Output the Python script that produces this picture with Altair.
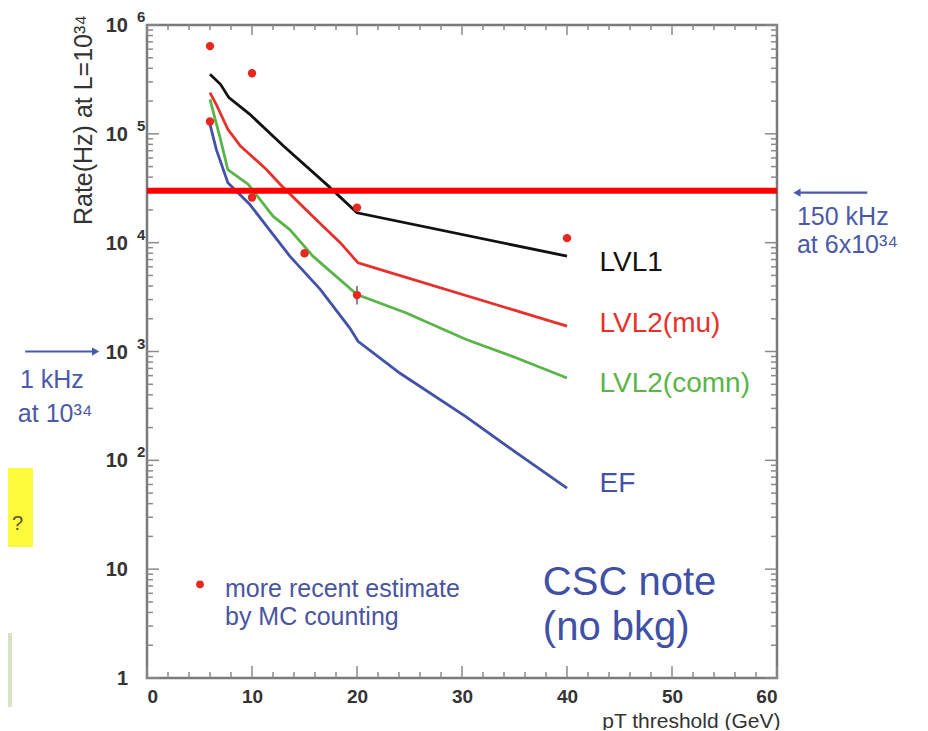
import altair as alt
import pandas as pd

FONT = "Liberation Sans"

# ---- curves (pT threshold in GeV, rate in Hz) ----
lvl1_x = [6, 7, 7.8, 9.8, 13.0, 17.1, 20.0, 40]
lvl1_y = [352000, 285000, 215000, 151000, 77300, 34300, 18800, 7520]
mu_x = [6, 6.6, 7.7, 8.9, 9.8, 11.4, 12.7, 15.8, 18.4, 20.1, 21.6, 40]
mu_y = [239000, 186000, 110000, 77300, 64600, 46800, 34300, 17400, 10000, 6530, 5890, 1710]
comn_x = [6, 7, 7.7, 9.65, 12.0, 13.6, 15.8, 20.0, 24.7, 30.4, 35.2, 40]
comn_y = [207000, 89100, 46800, 34300, 17500, 13200, 7520, 3330, 2260, 1290, 871, 571]
ef_x = [6, 6.6, 7.7, 9.8, 13.6, 16.5, 19.3, 20.1, 24.1, 30.4, 35.2, 40]
ef_y = [122000, 71900, 35500, 22400, 7520, 3720, 1650, 1240, 631, 251, 117, 55.6]

series_names = ["LVL1", "LVL2(mu)", "LVL2(comn)", "EF"]
series_colors = ["#111111", "#e8302a", "#5ab548", "#4352a8"]

# ---- MC counting estimates ----
dot_x = [6, 10, 6, 10, 15, 20, 20, 40]
dot_y = [640000, 360000, 130000, 26000, 8000, 21000, 3300, 11000]
err_x = [20]
err_lo = [2700]
err_hi = [4000]

# ---- 150 kHz at 6x10^34 limit ----
limit_rate = [30000]
limit_x0 = [0]
limit_x1 = [60]

# ---- axis ticks ----
x_major = [0, 10, 20, 30, 40, 50, 60]
x_minor = [2, 4, 6, 8, 12, 14, 16, 18, 22, 24, 26, 28, 32, 34, 36, 38,
           42, 44, 46, 48, 52, 54, 56, 58]
y_major = [1, 10, 100, 1000, 10000, 100000, 1000000]
y_base = ["1", "10", "10", "10", "10", "10", "10"]
y_exp = ["", "", "2", "3", "4", "5", "6"]
y_minor = [m * d for d in [1, 10, 100, 1000, 10000, 100000] for m in range(2, 10)]

# ---- texts ----
lab_x = [43.1, 43.1, 43.1, 43.1]
lab_y = [5500, 1510, 425, 51]

xs = alt.Scale(domain=[0, 60], nice=False, zero=False)
ys = alt.Scale(type="log", domain=[1, 1000000], nice=False)
x_axis = alt.Axis(
    values=x_major, format="d", domain=False, ticks=False, grid=False,
    labelFont=FONT, labelFontSize=19, labelFontWeight="bold", labelColor="#333333",
    labelPadding=9, labelBaseline="top",
    title="pT threshold (GeV)", titleFont=FONT, titleFontSize=21, titleFontWeight="normal",
    titleColor="#333333", titleAnchor="end", titleAlign="right", titleX=633, titleY=49,
    titleBaseline="alphabetic")

rows = []
for name, xv, yv in zip(series_names, [lvl1_x, mu_x, comn_x, ef_x], [lvl1_y, mu_y, comn_y, ef_y]):
    for i, (a, b) in enumerate(zip(xv, yv)):
        rows.append({"series": name, "x": a, "y": b, "o": i})
df_lines = pd.DataFrame(rows)
cscale = alt.Scale(domain=series_names, range=series_colors)

def X(f="x"):
    return alt.X(f"{f}:Q", scale=xs, axis=x_axis)

def Y(f="y"):
    return alt.Y(f"{f}:Q", scale=ys, axis=None)

layers = []

# background boxes (slide fragments on the left)
boxes = pd.DataFrame({"x0": [-14.5, -14.5], "x1": [-10.86, -12.86],
                      "y0": [16, 0.54], "y1": [85, 2.59],
                      "c": ["#fdfc3a", "#d6e4c2"]})
layers.append(alt.Chart(boxes).mark_rect().encode(
    x=X("x0"), x2="x1:Q", y=Y("y0"), y2="y1:Q",
    color=alt.Color("c:N", scale=None)))
layers.append(alt.Chart(pd.DataFrame({"x": [-11.8], "y": [22.9], "t": ["t ?"]}))
              .mark_text(align="right", baseline="alphabetic", font=FONT, fontSize=20, color="#555533")
              .encode(x=X(), y=Y(), text="t:N"))

# inner ticks on all four sides
def vticks(vals, x0, x1):
    return alt.Chart(pd.DataFrame({"v": vals})).mark_rule(color="#8a8a8a", strokeWidth=1.5).encode(
        y=alt.Y("v:Q", scale=ys, axis=None), x=alt.value(x0), x2=alt.value(x1))

def hticks(vals, y0, y1):
    return alt.Chart(pd.DataFrame({"v": vals})).mark_rule(color="#8a8a8a", strokeWidth=1.5).encode(
        x=alt.X("v:Q", scale=xs, axis=x_axis), y=alt.value(y0), y2=alt.value(y1))

layers += [vticks(y_major, 0, 12), vticks(y_minor, 0, 6),
           vticks(y_major, 630, 618), vticks(y_minor, 630, 624),
           hticks(x_major, 653, 641), hticks(x_minor, 653, 647),
           hticks(x_major, 0, 10), hticks(x_minor, 0, 5)]

# y tick labels: 10 with exponent
ylab = pd.DataFrame({"y": y_major, "b": y_base, "e": y_exp})
layers.append(alt.Chart(ylab).mark_text(align="right", baseline="middle", font=FONT, fontSize=20,
                                         fontWeight="bold", color="#333333", dy=1)
              .encode(y=Y(), text="b:N", x=alt.value(-19)))
layers.append(alt.Chart(ylab).mark_text(align="left", baseline="middle", font=FONT, fontSize=15,
                                         fontWeight="bold", color="#333333", dy=-8)
              .encode(y=Y(), text="e:N", x=alt.value(-10)))

# y title
layers.append(alt.Chart(pd.DataFrame({"x": [-6.0], "y": [134000], "t": ["Rate(Hz) at L=10³⁴"]}))
              .mark_text(angle=270, align="center", baseline="middle", font=FONT, fontSize=25, color="#333333")
              .encode(x=X(), y=Y(), text="t:N"))

# curves
layers.append(alt.Chart(df_lines).mark_line(strokeWidth=2.8).encode(
    x=X(), y=Y(), color=alt.Color("series:N", scale=cscale, legend=None),
    detail="series:N", order="o:Q"))

# limit line
layers.append(alt.Chart(pd.DataFrame({"x0": limit_x0, "x1": limit_x1, "y": limit_rate}))
              .mark_rule(color="#ff0000", strokeWidth=6).encode(x=X("x0"), x2="x1:Q", y=Y()))

# error bar + dots
layers.append(alt.Chart(pd.DataFrame({"x": err_x, "lo": err_lo, "hi": err_hi}))
              .mark_rule(color="#888888", strokeWidth=2).encode(x=X(), y=Y("lo"), y2="hi:Q"))
layers.append(alt.Chart(pd.DataFrame({"x": dot_x, "y": dot_y}))
              .mark_point(filled=True, color="#e8281e", size=70, opacity=1).encode(x=X(), y=Y()))

# series labels
layers.append(alt.Chart(pd.DataFrame({"x": lab_x, "y": lab_y, "t": series_names}))
              .mark_text(align="left", baseline="alphabetic", font=FONT, fontSize=28)
              .encode(x=X(), y=Y(), text="t:N", color=alt.Color("t:N", scale=cscale, legend=None)))

# legend-like note
layers.append(alt.Chart(pd.DataFrame({"x": [5.05], "y": [7.26]}))
              .mark_point(filled=True, color="#e8281e", size=60, opacity=1).encode(x=X(), y=Y()))
note = pd.DataFrame({"x": [7.43, 7.43], "y": [5.58, 3.05],
                     "t": ["more recent estimate", "by MC counting"]})
layers.append(alt.Chart(note).mark_text(align="left", baseline="alphabetic", font=FONT, fontSize=25,
                                         color="#4a55a0").encode(x=X(), y=Y(), text="t:N"))
csc = pd.DataFrame({"x": [37.7, 37.7], "y": [5.79, 2.23], "t": ["CSC note", "(no bkg)"]})
layers.append(alt.Chart(csc).mark_text(align="left", baseline="alphabetic", font=FONT, fontSize=40,
                                        color="#4050a6").encode(x=X(), y=Y(), text="t:N"))

# annotations outside the frame
ANN = "#4b59a8"
arrows = pd.DataFrame({"x0": [-11.6, 61.9], "x1": [-4.9, 68.6], "y": [1000, 28800]})
layers.append(alt.Chart(arrows).mark_rule(color=ANN, strokeWidth=2.2).encode(x=X("x0"), x2="x1:Q", y=Y()))
layers.append(alt.Chart(pd.DataFrame({"x": [-4.9], "y": [1000]}))
              .mark_point(shape="triangle-right", filled=True, color=ANN, size=70, opacity=1).encode(x=X(), y=Y()))
layers.append(alt.Chart(pd.DataFrame({"x": [61.9], "y": [28800]}))
              .mark_point(shape="triangle-left", filled=True, color=ANN, size=70, opacity=1).encode(x=X(), y=Y()))
ann = pd.DataFrame({"x": [-12.1, -12.3, 61.9, 61.9], "y": [462, 225, 14500, 8040],
                    "t": ["1 kHz", "at 10³⁴", "150 kHz", "at 6x10³⁴"]})
layers.append(alt.Chart(ann).mark_text(align="left", baseline="alphabetic", font=FONT, fontSize=25,
                                        color=ANN).encode(x=X(), y=Y(), text="t:N"))

chart = alt.layer(*layers).properties(
    width=630, height=653,
    padding={"left": 139, "top": 17, "right": 143, "bottom": 52},
    autosize=alt.AutoSizeParams(type="none"),
).configure_view(stroke="#7a7a7a", strokeWidth=2.5)

chart.save("out.html", embed_options={"renderer": "svg", "actions": False})
